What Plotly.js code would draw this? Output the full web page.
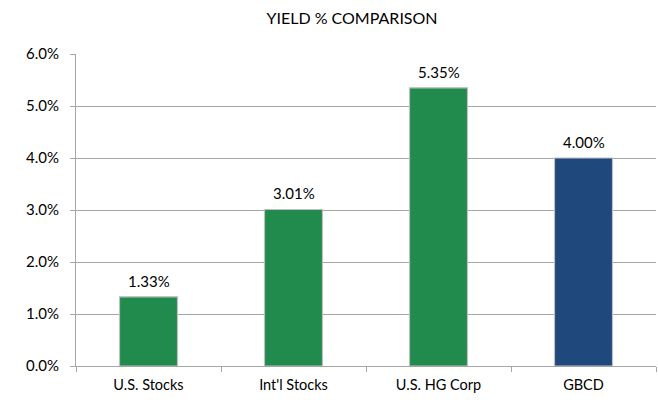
<!DOCTYPE html>
<html>
<head>
<meta charset="utf-8">
<script src="https://cdn.plot.ly/plotly-3.0.1.min.js"></script>
<style>html,body{margin:0;padding:0;background:#fff;}#chart{width:658px;height:400px;}</style>
</head>
<body>
<div id="chart"></div>
<script>
const categories = ["U.S. Stocks", "Int'l Stocks", "U.S. HG Corp", "GBCD"];
const yields = [1.33, 3.01, 5.35, 4.00];
const barColors = ["#218B4D", "#218B4D", "#218B4D", "#1F497D"];
const yTicks = [0, 1, 2, 3, 4, 5, 6];

const FONT = "Lato, 'Open Sans', sans-serif";

const trace = {
  type: "bar",
  x: categories,
  y: yields,
  width: 0.4,
  marker: {color: barColors, line: {color: "#BFBFBF", width: 1.2}},
  hoverinfo: "none"
};

const annotations = categories.map((c, i) => ({
  x: c, y: yields[i], xref: "x", yref: "y",
  text: yields[i].toFixed(2) + "%",
  showarrow: false, yanchor: "bottom", yshift: 5,
  font: {family: FONT, size: 15, color: "#000"}
}));

const layout = {
  width: 658, height: 400,
  margin: {l: 76, r: 2, t: 54, b: 34},
  paper_bgcolor: "#fff", plot_bgcolor: "#fff",
  font: {family: FONT, color: "#000", size: 14},
  title: {text: "YIELD % COMPARISON", x: 0.535, xanchor: "center", y: 0.955, yanchor: "middle",
          font: {size: 16, color: "#000"}},
  showlegend: false,
  annotations: annotations,
  xaxis: {
    type: "category",
    showline: true, linecolor: "#A6A6A6", linewidth: 1,
    ticks: "outside", tickson: "boundaries", ticklen: 5, tickcolor: "#A6A6A6",
    ticklabelstandoff: 6,
    showgrid: false, tickfont: {size: 14.5}, fixedrange: true
  },
  yaxis: {
    range: [0, 6], tickvals: yTicks, ticktext: yTicks.map(v => v.toFixed(1) + "%"),
    showline: true, linecolor: "#A6A6A6", linewidth: 1,
    ticks: "outside", ticklen: 5, tickcolor: "#A6A6A6",
    ticklabelstandoff: 8,
    showgrid: true, gridcolor: "#A6A6A6", gridwidth: 1,
    zeroline: false, tickfont: {size: 15}, fixedrange: true
  }
};

Plotly.newPlot("chart", [trace], layout, {displayModeBar: false, staticPlot: true});
</script>
</body>
</html>
